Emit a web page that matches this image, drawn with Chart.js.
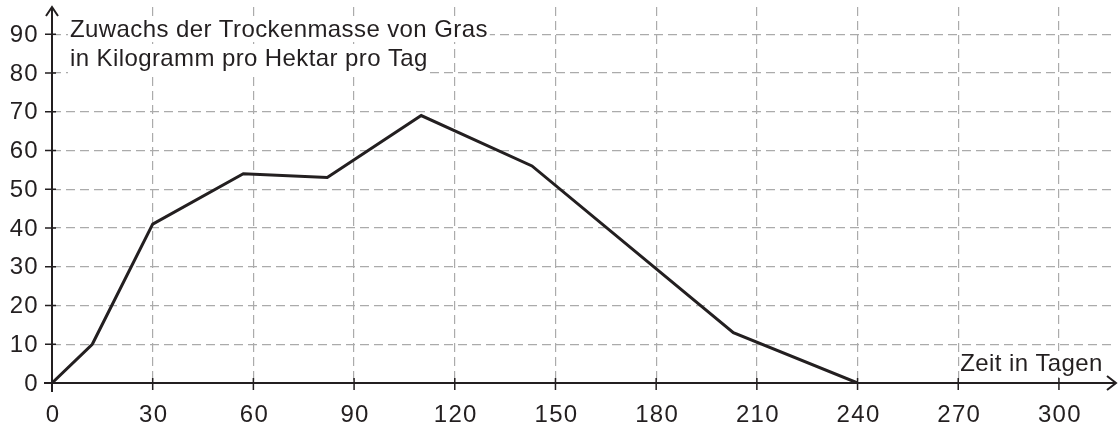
<!DOCTYPE html>
<html>
<head>
	<meta charset="UTF-8">
	<title>Trockenmasse Gras</title>
	<script src="https://cdn.jsdelivr.net/npm/chart.js"></script>
	<style>
	html, body { margin:0; padding:0; background:#fff; }
	#wrap { width:1119px; height:423px; }
	</style>
</head>
<body>
	<div id="wrap"><canvas id="myChart"></canvas></div>
	<script>
	// Daten
	var tage = [0, 12, 30, 57, 82, 110, 143, 203, 240];
	var zuwachs = [0, 10, 41, 54, 53, 69, 56, 13, 0];
	var xTicks = [0, 30, 60, 90, 120, 150, 180, 210, 240, 270, 300];
	var yTicks = [0, 10, 20, 30, 40, 50, 60, 70, 80, 90];
	var yTitle = ['Zuwachs der Trockenmasse von Gras', 'in Kilogramm pro Hektar pro Tag'];
	var xTitle = 'Zeit in Tagen';

	var ink = '#231f20';
	var font = '24px "Liberation Sans", Arial, sans-serif';

	var points = [];
	for (let i = 0; i < tage.length; i++) {
		points.push({x: tage[i], y: zuwachs[i]});
	}

	// Achsen, Pfeile, Striche und Beschriftungen selbst zeichnen
	var achsenPlugin = {
		id: 'achsen',
		beforeDatasetsDraw: function(chart) {
			var c = chart.ctx;
			var sx = chart.scales.x, sy = chart.scales.y;
			var x0 = sx.getPixelForValue(0), y0 = sy.getPixelForValue(0);
			c.save();
			c.font = font;
			c.letterSpacing = '0.4px';
			c.textBaseline = 'alphabetic';
			c.textAlign = 'left';
			// weisse Hinterlegung der Titel
			c.fillStyle = '#fff';
			var w1 = c.measureText(yTitle[0]).width, w2 = c.measureText(yTitle[1]).width;
			c.fillRect(x0 + 16, 18, w1 + 4, 24);
			c.fillRect(x0 + 16, 46, w2 + 4, 28);
			var xt = sx.getPixelForValue(270) + 2;
			var w3 = c.measureText(xTitle).width;
			c.fillRect(xt, y0 - 32, w3 + 2, 26);
			c.fillStyle = ink;
			c.fillText(yTitle[0], x0 + 18, 37);
			c.fillText(yTitle[1], x0 + 18, 66);
			c.fillText(xTitle, xt, y0 - 12);
			c.restore();
		},
		afterDraw: function(chart) {
			var c = chart.ctx, a = chart.chartArea;
			var sx = chart.scales.x, sy = chart.scales.y;
			var x0 = sx.getPixelForValue(0), y0 = sy.getPixelForValue(0);
			c.save();
			// Tick-Beschriftungen
			c.font = font;
			c.letterSpacing = '1.3px';
			c.fillStyle = ink;
			c.textAlign = 'right';
			c.textBaseline = 'middle';
			yTicks.forEach(function(v) {
				c.fillText(String(v), x0 - 13, sy.getPixelForValue(v) + 1);
			});
			c.textAlign = 'center';
			c.textBaseline = 'top';
			xTicks.forEach(function(v) {
				c.fillText(String(v), sx.getPixelForValue(v) + 1, y0 + 20);
			});
			// Achsen und Pfeile
			c.strokeStyle = ink;
			c.lineWidth = 2;
			c.beginPath();
			c.moveTo(x0, y0 + 9); c.lineTo(x0, a.top);
			c.moveTo(x0 - 8, y0); c.lineTo(a.right, y0);
			c.moveTo(x0 - 6, a.top + 9); c.lineTo(x0, a.top); c.lineTo(x0 + 6, a.top + 9);
			c.moveTo(a.right - 9, y0 - 7); c.lineTo(a.right, y0); c.lineTo(a.right - 9, y0 + 7);
			c.stroke();
			c.lineWidth = 1.5;
			c.beginPath();
			xTicks.forEach(function(v) {
				var px = sx.getPixelForValue(v);
				c.moveTo(px, y0 - 5); c.lineTo(px, y0 + 7);
			});
			yTicks.forEach(function(v) {
				var py = sy.getPixelForValue(v);
				c.moveTo(x0 - 7, py); c.lineTo(x0 + 4, py);
			});
			c.stroke();
			c.restore();
		}
	};

	const ctx = document.getElementById('myChart');
	new Chart(ctx, {
		type: 'line',
		data: {
			datasets: [{
				data: points,
				borderColor: ink,
				borderWidth: 3,
				pointRadius: 0,
				tension: 0,
				fill: false
			}]
		},
		options: {
			responsive: true,
			maintainAspectRatio: false,
			animation: false,
			layout: { padding: { top: 7, right: 3, left: 0, bottom: 0 } },
			plugins: { legend: { display: false }, tooltip: { enabled: false } },
			scales: {
				x: {
					type: 'linear',
					min: 0,
					max: 317,
					afterBuildTicks: function(s) { s.ticks = xTicks.map(function(v) { return {value: v}; }); },
					afterFit: function(s) { s.height = 40; },
					border: { display: false, dash: [9, 5] },
					grid: { color: '#ababab', lineWidth: 1.2, drawTicks: false },
					ticks: { display: false }
				},
				y: {
					min: 0,
					max: 97,
					afterBuildTicks: function(s) { s.ticks = yTicks.map(function(v) { return {value: v}; }); },
					afterFit: function(s) { s.width = 52; },
					border: { display: false, dash: [9, 5] },
					grid: { color: '#ababab', lineWidth: 1.2, drawTicks: false },
					ticks: { display: false }
				}
			}
		},
		plugins: [achsenPlugin]
	});
	</script>
</body>
</html>
